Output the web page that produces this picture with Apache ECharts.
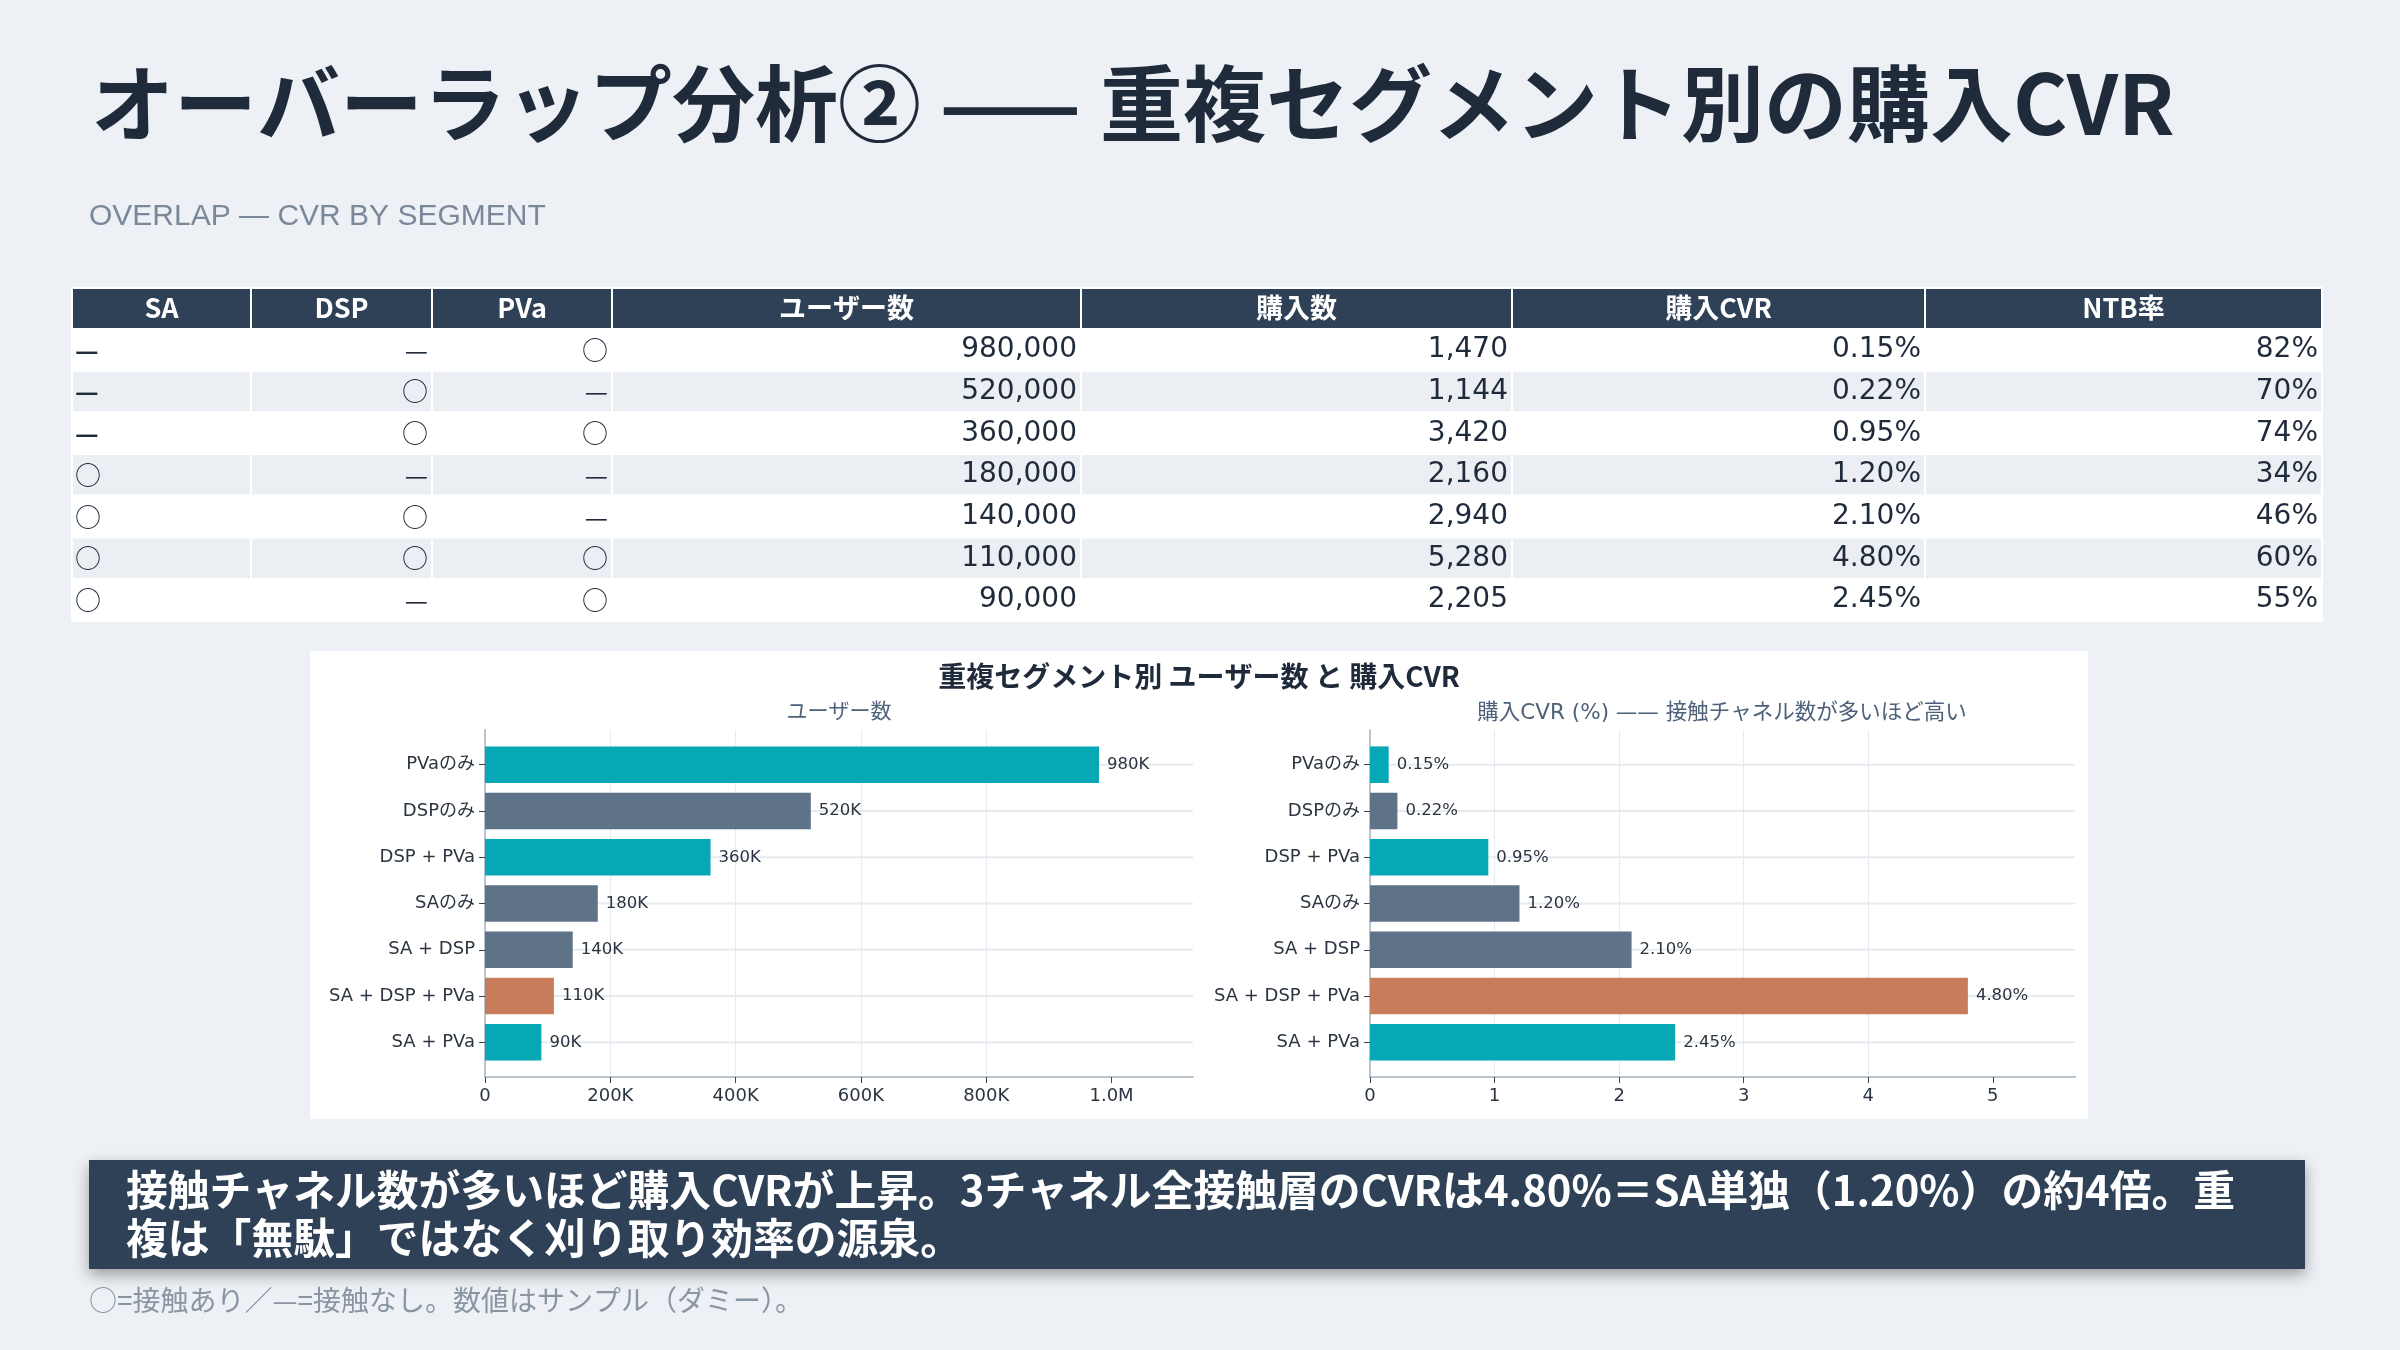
<!DOCTYPE html>
<html lang="ja">
<head>
<meta charset="utf-8">
<title>オーバーラップ分析② —— 重複セグメント別の購入CVR</title>
<script src="https://cdn.jsdelivr.net/npm/echarts@6/dist/echarts.min.js"></script>
<style>
html, body { margin: 0; padding: 0; background: #edf1f5; }
#chart { width: 2400px; height: 1350px; }
</style>
</head>
<body>
<div id="chart"></div>
<script>
// ---- データ ----
const segments = ['PVaのみ', 'DSPのみ', 'DSP + PVa', 'SAのみ', 'SA + DSP', 'SA + DSP + PVa', 'SA + PVa']
const saFlags = ['—', '—', '—', '○', '○', '○', '○']
const dspFlags = ['—', '○', '○', '—', '○', '○', '—']
const pvaFlags = ['○', '—', '○', '—', '—', '○', '○']
const users = [980000, 520000, 360000, 180000, 140000, 110000, 90000]
const purchases = [1470, 1144, 3420, 2160, 2940, 5280, 2205]
const cvr = [0.15, 0.22, 0.95, 1.20, 2.10, 4.80, 2.45]
const ntb = [82, 70, 74, 34, 46, 60, 55]
const tableHeaders = ['SA', 'DSP', 'PVa', 'ユーザー数', '購入数', '購入CVR', 'NTB率']
const userTickLabels = ['0', '200K', '400K', '600K', '800K', '1.0M']
const cvrTickLabels = ['0', '1', '2', '3', '4', '5']

// 色
const TEAL = '#07a8b6'
const SLATE = '#5e7288'
const ORANGE = '#c77d5a'
const barColors = [TEAL, SLATE, TEAL, SLATE, SLATE, ORANGE, TEAL]
const NAVY = '#2e4156'
const INK = '#1f2a3a'

const FONT = '"DejaVu Sans", "Noto Sans CJK JP", sans-serif'
const JP = '"Noto Sans CJK JP", sans-serif'
const SANS = '"Liberation Sans", "Noto Sans CJK JP", sans-serif'

const userLabels = users.map(v => (v / 1000) + 'K')
const cvrLabels = cvr.map(v => v.toFixed(2) + '%')
const catIdx = segments.map((s, i) => i)

// ---- 表 ----
const colWidths = [179, 181, 180, 469, 431, 413, 397]
const colAlign = ['left', 'right', 'right', 'right', 'right', 'right', 'right']
const tableX = 72
const headTop = 288
const headH = 41
const rowH = 41.7

const tableCols = [
    saFlags,
    dspFlags,
    pvaFlags,
    users.map(v => v.toLocaleString('en-US')),
    purchases.map(v => v.toLocaleString('en-US')),
    cvr.map(v => v.toFixed(2) + '%'),
    ntb.map(v => v + '%')
]

function cellFont(c, txt) {
    if (c > 2) return '28px ' + FONT
    // ○ / — は全角グリフで
    return (c === 0 && txt === '—' ? 'bold ' : '') + '26px ' + JP
}

function buildTable() {
    const els = []
    let x = tableX
    colWidths.forEach((w, c) => {
        els.push({
            type: 'rect', z: 1,
            shape: { x: x, y: headTop, width: w, height: headH },
            style: { fill: NAVY, stroke: '#ffffff', lineWidth: 2 }
        })
        els.push({
            type: 'text', z: 2,
            style: {
                x: x + w / 2, y: headTop + headH / 2 - 1, text: tableHeaders[c],
                align: 'center', verticalAlign: 'middle',
                font: 'bold 27px ' + JP, fill: '#ffffff'
            }
        })
        tableCols[c].forEach((txt, r) => {
            const top = headTop + headH + r * rowH
            els.push({
                type: 'rect', z: 1,
                shape: { x: x, y: top, width: w, height: rowH },
                style: { fill: r % 2 ? '#ebeff3' : '#ffffff', stroke: '#ffffff', lineWidth: 2 }
            })
            const left = colAlign[c] === 'left'
            els.push({
                type: 'text', z: 2,
                style: {
                    x: left ? x + 3 : x + w - 4, y: top + rowH / 2, text: txt,
                    align: colAlign[c], verticalAlign: 'middle',
                    font: cellFont(c, txt), fill: INK
                }
            })
        })
        x += w
    })
    return els
}

// ---- 棒(カスタム) ----
function barRenderer(labels) {
    return function (params, api) {
        const i = params.dataIndex
        const base = api.coord([0, api.value(0)])
        const end = api.coord([api.value(1), api.value(0)])
        const h = api.size([0, 1])[1] * 0.79
        const cs = params.coordSys
        return {
            type: 'group',
            children: [
                {
                    type: 'line',
                    shape: { x1: cs.x, y1: base[1], x2: cs.x + cs.width, y2: base[1] },
                    style: { stroke: '#e6ebf0', lineWidth: 2 }
                },
                {
                    type: 'rect',
                    shape: { x: base[0], y: base[1] - h / 2, width: end[0] - base[0], height: h },
                    style: { fill: barColors[i] }
                },
                {
                    type: 'text',
                    style: {
                        x: end[0] + 8, y: base[1], text: labels[i],
                        align: 'left', verticalAlign: 'middle',
                        font: '16.5px ' + FONT, fill: '#2b3541'
                    }
                }
            ]
        }
    }
}

function makeXAxis(gridIndex, max, step, tickLabels) {
    return {
        gridIndex: gridIndex, type: 'value', min: 0, max: max, interval: step,
        axisLine: { show: true, onZero: false, lineStyle: { color: '#b9c4cf', width: 2 } },
        axisTick: { show: true, length: 6, customValues: tickLabels.map((t, k) => k * step), lineStyle: { color: '#3a4654', width: 1 } },
        axisLabel: {
            showMaxLabel: false, margin: 10, fontSize: 18, color: '#2b3541', fontFamily: FONT,
            formatter: v => tickLabels[Math.round(v / step)] || ''
        },
        splitLine: { show: true, showMinLine: false, showMaxLine: false, lineStyle: { color: '#e6ebf0', width: 1 } }
    }
}

function makeYAxis(gridIndex) {
    return {
        gridIndex: gridIndex, type: 'value', inverse: true, min: -0.75, max: 6.75,
        axisLine: { show: true, onZero: false, lineStyle: { color: '#b9c4cf', width: 2 } },
        axisTick: { show: true, length: 6, customValues: catIdx, lineStyle: { color: '#3a4654', width: 1 } },
        axisLabel: {
            customValues: catIdx, margin: 10, fontSize: 18, color: '#2b3541', fontFamily: FONT,
            formatter: v => segments[Math.round(v)] || ''
        },
        splitLine: { show: false }
    }
}

const chart = echarts.init(document.getElementById('chart'), null, { renderer: 'canvas' })

const option = {
    backgroundColor: '#edf1f5',
    animation: false,
    grid: [
        { left: 485, top: 730, width: 708, height: 347 },
        { left: 1370, top: 730, width: 705, height: 347 }
    ],
    xAxis: [
        makeXAxis(0, 1130000, 200000, userTickLabels),
        makeXAxis(1, 5.66, 1, cvrTickLabels)
    ],
    yAxis: [makeYAxis(0), makeYAxis(1)],
    series: [
        {
            type: 'custom', xAxisIndex: 0, yAxisIndex: 0, clip: false,
            encode: { x: 1, y: 0 },
            data: users.map((v, i) => [i, v]),
            renderItem: barRenderer(userLabels)
        },
        {
            type: 'custom', xAxisIndex: 1, yAxisIndex: 1, clip: false,
            encode: { x: 1, y: 0 },
            data: cvr.map((v, i) => [i, v]),
            renderItem: barRenderer(cvrLabels)
        }
    ],
    graphic: {
        elements: [
            {
                type: 'text',
                style: {
                    x: 91, y: 103, text: 'オーバーラップ分析② —— 重複セグメント別の購入CVR',
                    verticalAlign: 'middle', font: 'bold 83px ' + JP, fill: INK
                }
            },
            {
                type: 'text',
                style: {
                    x: 89, y: 217, text: 'OVERLAP — CVR BY SEGMENT',
                    verticalAlign: 'middle', font: '30px ' + SANS, fill: '#7b889a'
                }
            },
            ...buildTable(),
            {
                type: 'rect', z: -10,
                shape: { x: 310, y: 651, width: 1778, height: 468 },
                style: { fill: '#ffffff' }
            },
            {
                type: 'text',
                style: {
                    x: 1199, y: 676, text: '重複セグメント別 ユーザー数 と 購入CVR',
                    align: 'center', verticalAlign: 'middle', font: 'bold 28px ' + JP, fill: INK
                }
            },
            {
                type: 'text',
                style: {
                    x: 839, y: 713, text: 'ユーザー数',
                    align: 'center', verticalAlign: 'middle', font: '21px ' + FONT, fill: '#4d627a'
                }
            },
            {
                type: 'text',
                style: {
                    x: 1722, y: 713, text: '購入CVR (%) —— 接触チャネル数が多いほど高い',
                    align: 'center', verticalAlign: 'middle', font: '21.5px ' + FONT, fill: '#4d627a'
                }
            },
            {
                type: 'rect',
                shape: { x: 89, y: 1160, width: 2216, height: 109 },
                style: { fill: NAVY, shadowBlur: 14, shadowOffsetY: 6, shadowColor: 'rgba(0,0,0,0.35)' }
            },
            {
                type: 'text',
                style: {
                    x: 126, y: 1214,
                    text: '接触チャネル数が多いほど購入CVRが上昇。3チャネル全接触層のCVRは4.80%＝SA単独（1.20%）の約4倍。重\n複は「無駄」ではなく刈り取り効率の源泉。',
                    verticalAlign: 'middle', lineHeight: 48,
                    font: 'bold 41.8px ' + JP, fill: '#ffffff'
                }
            },
            {
                type: 'text',
                style: {
                    x: 89, y: 1300, text: '○=接触あり／—=接触なし。数値はサンプル（ダミー）。',
                    verticalAlign: 'middle', font: '28px ' + JP, fill: '#8a95a3'
                }
            }
        ]
    }
}

chart.setOption(option)
</script>
</body>
</html>
